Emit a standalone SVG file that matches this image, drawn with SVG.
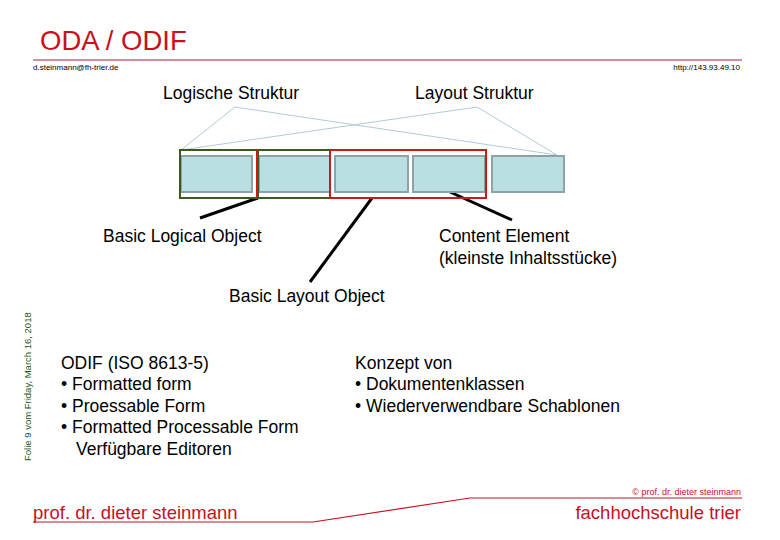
<svg xmlns="http://www.w3.org/2000/svg" width="780" height="540" viewBox="0 0 780 540">
<style>
text{font-family:"Liberation Sans",Arial,sans-serif}
.r{fill:#c8101e}
.b{fill:#000;font-size:17.5px}
.cell{fill:#b9dfe2;stroke:#8fa3a6;stroke-width:2}
.thin{stroke:#b0ccd4;stroke-width:1;fill:none}
.blk{stroke:#000;stroke-width:3}
</style>
<rect width="780" height="540" fill="#fff"/>
<g id="header">
<text x="40" y="50" class="r" font-size="27.5">ODA / ODIF</text>
<line x1="33" y1="60" x2="742" y2="60" stroke="#a02030" stroke-width="1.2"/>
<text x="33" y="70" font-size="8">d.steinmann@fh-trier.de</text>
<text x="740" y="70" font-size="8" text-anchor="end">http://143.93.49.10</text>
</g>
<g id="connectors">
<polyline class="thin" points="181,150 235,107 557,155"/>
<polyline class="thin" points="181,150 477,107 557,155"/>
<line class="blk" x1="258" y1="198" x2="200" y2="218"/>
<line class="blk" x1="372" y1="198" x2="310" y2="282"/>
<line class="blk" x1="450" y1="192" x2="512" y2="220"/>
</g>
<g id="cells">
<rect class="cell" x="181" y="156" width="71" height="36"/>
<rect class="cell" x="259" y="156" width="71" height="36"/>
<rect class="cell" x="335" y="156" width="73" height="36"/>
<rect class="cell" x="413" y="156" width="72" height="36"/>
<rect class="cell" x="492" y="156" width="72" height="36"/>
</g>
<g id="logical-frames" fill="none" stroke-width="2">
<rect x="180" y="150" width="150" height="48" stroke="#3b5a1e"/>
<line x1="258" y1="150" x2="258" y2="198" stroke="#3b5a1e"/>
<line x1="257" y1="150" x2="257" y2="198" stroke="#d01818"/>
<rect x="330" y="150" width="156" height="48" stroke="#d01818"/>
</g>
<g id="labels">
<text x="163" y="99" class="b">Logische Struktur</text>
<text x="415" y="99" class="b">Layout Struktur</text>
<text x="103" y="242" class="b">Basic Logical Object</text>
<text x="439" y="242" class="b">Content Element</text>
<text x="439" y="264" class="b">(kleinste Inhaltsstücke)</text>
<text x="229" y="302" class="b">Basic Layout Object</text>
</g>
<g id="lists">
<text x="61" y="369" class="b">ODIF (ISO 8613-5)</text>
<text x="61" y="390" class="b">• Formatted form</text>
<text x="61" y="412" class="b">• Proessable Form</text>
<text x="61" y="433" class="b">• Formatted Processable Form</text>
<text x="76" y="455" class="b">Verfügbare Editoren</text>
<text x="355" y="369" class="b">Konzept von</text>
<text x="355" y="390" class="b">• Dokumentenklassen</text>
<text x="355" y="412" class="b">• Wiederverwendbare Schablonen</text>
</g>
<g id="footer">
<text transform="translate(31,461) rotate(-90)" font-size="9.5" fill="#1a5a1a">Folie 9 vom Friday, March 16, 2018</text>
<text x="741" y="495" font-size="9" text-anchor="end" class="r">© prof. dr. dieter steinmann</text>
<polyline points="33,522 313,522 470,498 742,498" fill="none" stroke="#c8101e" stroke-width="1.2"/>
<text x="33" y="519" class="r" font-size="18.5">prof. dr. dieter steinmann</text>
<text x="741" y="519" class="r" font-size="18.5" text-anchor="end">fachhochschule trier</text>
</g>
</svg>
